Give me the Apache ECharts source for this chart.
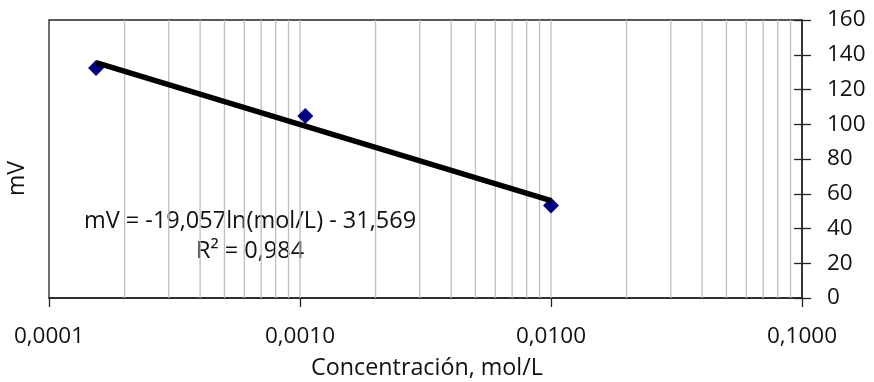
<!DOCTYPE html>
<html>
<head>
<meta charset="utf-8">
<script src="https://cdn.jsdelivr.net/npm/echarts@6/dist/echarts.min.js"></script>
<style>
html,body{margin:0;padding:0;background:#fff;}
#c{width:874px;height:382px;}
</style>
</head>
<body>
<div id="c"></div>
<script>
// Data
var concentrations = [0.000154, 0.00105, 0.0100];
var millivolts = [132.4, 104.8, 53.3];
var trendX = [0.000154, 0.0100];
var trendY = [135.5, 56.0];
var minorGridValues = [0.0002,0.0003,0.0004,0.0005,0.0006,0.0007,0.0008,0.0009,0.001,
  0.002,0.003,0.004,0.005,0.006,0.007,0.008,0.009,0.01,
  0.02,0.03,0.04,0.05,0.06,0.07,0.08,0.09];
var yRange = [0, 160];
var xTitle = 'Concentración, mol/L';
var yTitle = 'mV';
var equationLines = ['mV = -19,057ln(mol/L) - 31,569', 'R² = 0,984'];

var FONT = 'Open Sans';
var chart = echarts.init(document.getElementById('c'));
chart.setOption({
  animation: false,
  backgroundColor: '#fff',
  grid: {left: 49, top: 20, right: 72, bottom: 84, show: true, borderColor: '#222', borderWidth: 1.3, backgroundColor: 'transparent'},
  xAxis: {
    type: 'log', logBase: 10, min: 0.0001, max: 0.1,
    axisLine: {show: true, onZero: false, lineStyle: {color: '#222', width: 1.5}},
    axisTick: {show: true, length: 9, lineStyle: {color: '#222', width: 1.3}},
    axisLabel: {fontFamily: FONT, fontSize: 22.5, color: '#111', margin: 27,
      formatter: function (v) { return Number(v).toFixed(4).replace('.', ','); }},
    splitLine: {show: false},
    minorTick: {show: false}
  },
  yAxis: [{
    type: 'value', position: 'right', min: yRange[0], max: yRange[1], interval: 20,
    axisLine: {show: true, lineStyle: {color: '#222', width: 1.5}},
    axisTick: {show: true, inside: false, length: 9, lineStyle: {color: '#222', width: 1.3}},
    axisLabel: {fontFamily: FONT, fontSize: 22.5, color: '#111', margin: 25, align: 'left'},
    splitLine: {show: false}
  }, {
    type: 'value', position: 'right', min: yRange[0], max: yRange[1], interval: 20,
    axisLine: {show: false},
    axisTick: {show: true, inside: true, length: 8, lineStyle: {color: '#222', width: 1.3}},
    axisLabel: {show: false},
    splitLine: {show: false}
  }],
  graphic: [{
    type: 'text', left: 6, top: 161, rotation: Math.PI / 2,
    style: {text: yTitle, font: '23px "Open Sans"', fill: '#111', x: 0, y: 0}
  }, {
    type: 'text', x: 250, y: 206,
    style: {text: equationLines.join('\n'), font: '23.5px "Open Sans"', fill: '#111', align: 'center', lineHeight: 30}
  }, {
    type: 'text', x: 427, y: 357,
    style: {text: xTitle, font: '23.3px "Open Sans"', fill: '#111', align: 'center'}
  }],
  series: [{
    type: 'custom', name: 'grid', z: 1, silent: true,
    data: minorGridValues,
    encode: {x: 0},
    renderItem: function (params, api) {
      var v = api.value(0);
      var p0 = api.coord([v, yRange[0]]);
      var p1 = api.coord([v, yRange[1]]);
      return {type: 'line', shape: {x1: p0[0], y1: p0[1], x2: p1[0], y2: p1[1]},
        style: {stroke: '#bfbfbf', lineWidth: 1.3}};
    }
  }, {
    type: 'scatter', name: 'mV', z: 3,
    symbol: 'diamond', symbolSize: 16,
    itemStyle: {color: '#000080', opacity: 1},
    data: concentrations.map(function (c, i) { return [c, millivolts[i]]; })
  }, {
    type: 'line', name: 'trend', z: 4, symbol: 'none',
    lineStyle: {color: '#000', width: 5.5},
    data: trendX.map(function (c, i) { return [c, trendY[i]]; })
  }]
});
</script>
</body>
</html>
